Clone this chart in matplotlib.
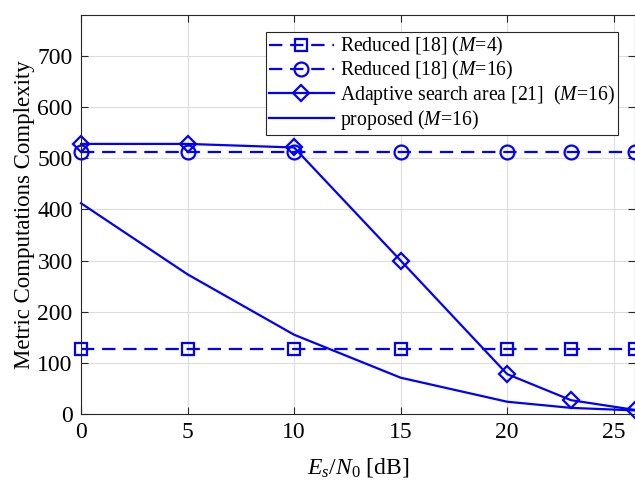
import matplotlib
matplotlib.use("Agg")
import matplotlib.pyplot as plt

snr = [0, 5, 10, 15, 20, 23, 26]
reduced_m4 = [128, 128, 128, 128, 128, 128, 128]
reduced_m16 = [512, 512, 512, 512, 512, 512, 512]
adaptive_m16 = [528, 528, 521, 300, 78, 27, 8]
proposed_m16 = [412, 273, 155, 71, 24, 12, 7]

BLUE = "#0000ff"

plt.rcParams.update({
    "font.family": "Liberation Serif",
    "mathtext.fontset": "custom",
    "mathtext.rm": "Liberation Serif",
    "mathtext.it": "Liberation Serif:italic",
    "font.size": 17,
})

fig = plt.figure(figsize=(6.35, 4.84), dpi=100)
ax = fig.add_axes([0.1276, 0.1446, 0.8724, 0.8244])

dash = (0, (6, 3.5))
ax.plot(snr, reduced_m4, color=BLUE, lw=1.6, linestyle=dash, marker="s", ms=8,
        mfc="none", mew=1.6, label=r"Reduced [18] ($M$=4)", clip_on=False)
ax.plot(snr, reduced_m16, color=BLUE, lw=1.6, linestyle=dash, marker="o", ms=10,
        mfc="none", mew=1.6, label=r"Reduced [18] ($M$=16)", clip_on=False)
ax.plot(snr, adaptive_m16, color=BLUE, lw=1.6, marker="D", ms=8,
        mfc="none", mew=1.6, label=r"Adaptive search area [21]  ($M$=16)", clip_on=False)
ax.plot(snr, proposed_m16, color=BLUE, lw=1.6, label=r"proposed ($M$=16)", clip_on=False)

ax.set_xlim(0, 26)
ax.set_ylim(0, 780)
ax.set_xticks([0, 5, 10, 15, 20, 25])
ax.set_yticks([0, 100, 200, 300, 400, 500, 600, 700])
ax.grid(True, color="#dcdcdc", linewidth=0.8)
ax.tick_params(direction="in", top=True, right=True, colors="#262626", labelcolor="black",
               length=5, labelsize=17, pad=6)
for s in ax.spines.values():
    s.set_color("#262626")
    s.set_linewidth(0.8)

ax.set_xlabel(r"$E_s/N_0$ [dB]", fontsize=17, labelpad=9)
ax.set_ylabel("Metric Computations Complexity", fontsize=16.5, labelpad=2)

leg = ax.legend(loc="upper right", bbox_to_anchor=(0.969, 0.957), fontsize=14.2,
                frameon=True, fancybox=False, edgecolor="#262626", framealpha=1,
                handlelength=3.3, borderpad=0.15, labelspacing=0.05, handletextpad=0.3,
                borderaxespad=0.0)
leg.get_frame().set_linewidth(0.8)

fig.savefig("out.png", dpi=100)
